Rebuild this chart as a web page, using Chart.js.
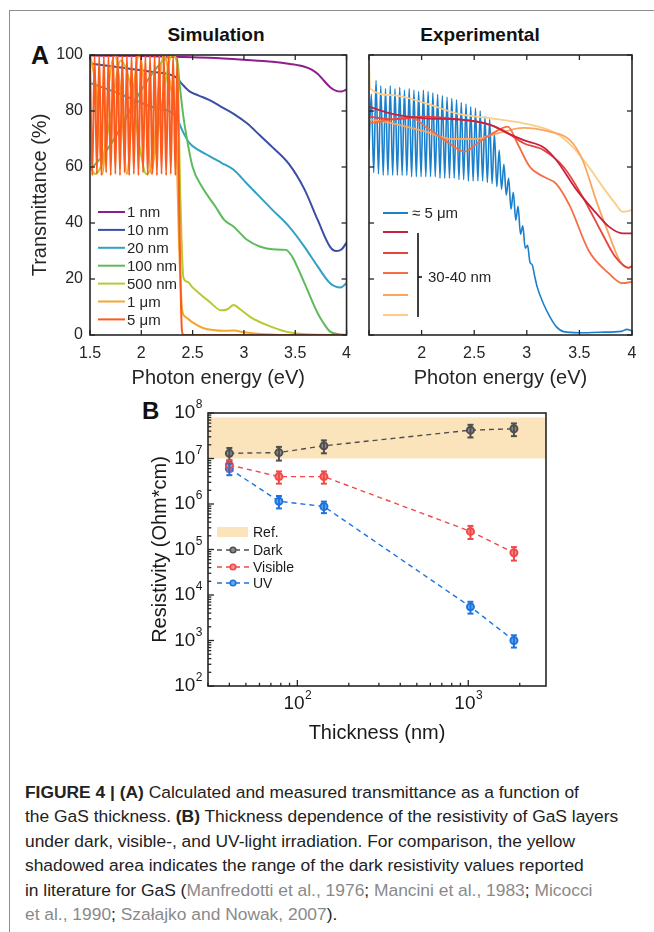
<!DOCTYPE html>
<html>
<head>
<meta charset="utf-8">
<script src="https://cdn.jsdelivr.net/npm/chart.js@4.4.1/dist/chart.umd.min.js"></script>
<style>
  body { margin: 0; background: #fff; width: 654px; height: 932px; position: relative; overflow: hidden;
         font-family: "Liberation Sans", Arial, sans-serif; color: #222; }
  canvas { position: absolute; }
  .frame { position: absolute; left: 9px; top: 10px; width: 700px; height: 960px;
           border-left: 1px solid #8e8e8e; border-top: 1px solid #8e8e8e; }
  .lbl { position: absolute; font-weight: bold; color: #111; white-space: nowrap; }
  .title { position: absolute; font-weight: bold; font-size: 19px; color: #111; transform: translateX(-50%); white-space: nowrap; }
  .cap { position: absolute; left: 25px; top: 780px; font-size: 17.4px; line-height: 24.4px; white-space: nowrap; color: #222; }
  .cap .ref { color: #8a8a8a; }
</style>
</head>
<body>
<div class="frame"></div>
<div class="lbl" style="left:31px;top:41px;font-size:25px;">A</div>
<div class="title" style="left:216px;top:24px;">Simulation</div>
<div class="title" style="left:480px;top:24px;">Experimental</div>
<div class="lbl" style="left:142px;top:397px;font-size:24px;">B</div>
<canvas id="sim" width="360" height="400" style="left:0;top:0"></canvas>
<canvas id="exp" width="294" height="400" style="left:360px;top:0"></canvas>
<canvas id="res" width="654" height="351" style="left:0;top:395px"></canvas>
<div class="cap">
<b>FIGURE 4 | (A)</b> Calculated and measured transmittance as a function of<br>
the GaS thickness. <b>(B)</b> Thickness dependence of the resistivity of GaS layers<br>
under dark, visible-, and UV-light irradiation. For comparison, the yellow<br>
shadowed area indicates the range of the dark resistivity values reported<br>
in literature for GaS (<span class="ref">Manfredotti et al., 1976</span>; <span class="ref">Mancini et al., 1983</span>; <span class="ref">Micocci<br>
et al., 1990</span>; <span class="ref">Szałajko and Nowak, 2007</span>).
</div>
<script>
// ---- (A) Simulation ----
const simLabels = ['1 nm', '10 nm', '20 nm', '100 nm', '500 nm', '1 μm', '5 μm'];
const simColors = ['#8e1d8e', '#3b4ea6', '#32a1c4', '#5dbb5d', '#b9c932', '#f6a52e', '#fb5b1c'];

const sim1nmE = [1.5, 2.0, 2.4, 2.66, 3.0, 3.28, 3.45, 3.59, 3.66, 3.72, 3.78, 3.84, 3.9, 3.95, 4.0];
const sim1nmT = [99.8, 99.6, 99.3, 99.0, 98.3, 97.6, 96.8, 95.8, 94.8, 93.2, 90.8, 88.5, 87.2, 87.0, 87.6];

const sim10nmE = [1.5, 1.8, 2.1, 2.34, 2.4, 2.47, 2.56, 2.66, 2.78, 2.9, 3.03, 3.15, 3.28, 3.44, 3.59, 3.72, 3.84, 3.9, 3.95, 4.0];
const sim10nmT = [97, 95.5, 94, 92, 89.5, 87, 85.5, 84, 81.5, 79, 75.6, 71.5, 67, 61, 52, 41, 31.5, 30, 30.5, 33];

const sim20nmE = [1.5, 1.8, 2.1, 2.34, 2.4, 2.47, 2.56, 2.66, 2.78, 2.9, 3.03, 3.15, 3.28, 3.44, 3.59, 3.72, 3.84, 3.94, 4.0];
const sim20nmT = [90, 86, 81.5, 78, 73, 68.5, 66, 64, 61.5, 59, 54, 49.5, 44.6, 38.7, 31.5, 24.4, 18.5, 17, 18.5];

const sim100nmE = [1.5, 1.6, 1.7, 1.8, 1.9, 2.0, 2.1, 2.2, 2.3, 2.35, 2.375, 2.41, 2.44, 2.5, 2.59, 2.72, 2.81, 2.9, 3.03, 3.16, 3.28, 3.41, 3.47, 3.53, 3.59, 3.66, 3.72, 3.78, 3.84, 3.92, 4.0];
const sim100nmT = [59, 63, 68, 74, 81, 87.5, 93, 97.5, 99.8, 98, 89, 78, 71, 60, 53, 46, 41, 38.7, 34, 31.5, 30.6, 30.4, 28, 23.5, 18.5, 12.5, 7.7, 4, 1.2, 0.3, 0];

const sim500nmE = [1.5, 1.55, 1.62, 1.7, 1.8, 1.9, 1.98, 2.05, 2.12, 2.2, 2.3, 2.35, 2.38, 2.41, 2.45, 2.5, 2.56, 2.66, 2.78, 2.84, 2.9, 2.97, 3.06, 3.22, 3.41, 3.6, 4.0];
const sim500nmT = [60, 57.5, 62, 78, 98, 88, 68, 57.5, 63, 82, 100, 97, 50, 20.5, 19, 17, 15, 12, 8.8, 9.2, 10.7, 9, 6.5, 3.6, 1.2, 0.3, 0];

const sim1umE = [1.5, 1.56, 1.62, 1.68, 1.74, 1.8, 1.86, 1.92, 1.98, 2.04, 2.1, 2.16, 2.22, 2.28, 2.34, 2.37, 2.4, 2.43, 2.5, 2.6, 2.7, 2.8, 2.9, 3.0, 3.2, 3.5, 4.0];
const sim1umT = [100, 88, 57.5, 88, 100, 86, 57.5, 86, 100, 85, 57.5, 85, 100, 90, 70, 30, 8.5, 6.5, 4.5, 2.5, 1.8, 1.5, 1.6, 1.0, 0.3, 0, 0];

const sim5umE = [1.500, 1.522, 1.545, 1.567, 1.590, 1.612, 1.635, 1.657, 1.680, 1.702, 1.725, 1.747, 1.770, 1.792, 1.815, 1.837,
  1.860, 1.882, 1.905, 1.927, 1.950, 1.972, 1.995, 2.017, 2.040, 2.062, 2.085, 2.107, 2.130, 2.152, 2.175, 2.197,
  2.220, 2.242, 2.265, 2.287, 2.310, 2.332, 2.350, 2.372, 2.395, 2.41, 3.0, 4.0];
const sim5umT = [100, 57, 100, 57.5, 100, 57, 100, 58, 100, 57, 100, 57.5, 100, 57, 100, 58,
  100, 57, 100, 57.5, 100, 57, 100, 58, 100, 57, 100, 57.5, 100, 57, 100, 57.5,
  100, 57, 100, 57.5, 100, 57, 99, 40, 2, 0, 0, 0];

// ---- (A) Experimental ----
const expColors = ['#1b80cc', '#c8203f', '#e8443e', '#f46e45', '#fba560', '#fdcd87'];
const expBlueLabel = '≈ 5 μm';
const expBracketLabel = '30-40 nm';

const exp5umE = [1.500, 1.522, 1.545, 1.567, 1.590, 1.612, 1.635, 1.657, 1.680, 1.702, 1.725, 1.747, 1.770, 1.792, 1.815, 1.837,
  1.860, 1.882, 1.905, 1.927, 1.950, 1.972, 1.995, 2.017, 2.040, 2.062, 2.085, 2.107, 2.130, 2.152, 2.175, 2.197,
  2.220, 2.242, 2.265, 2.287, 2.310, 2.332, 2.355, 2.377, 2.400, 2.422, 2.445, 2.467, 2.490, 2.512, 2.535, 2.557,
  2.580, 2.602, 2.625, 2.647, 2.670, 2.692, 2.715, 2.737, 2.760, 2.782, 2.805, 2.827, 2.850, 2.872, 2.895, 2.917,
  2.940, 2.962, 2.985, 3.007, 3.030, 3.052, 3.075, 3.10, 3.16, 3.22, 3.28, 3.35, 3.5, 3.7, 3.9, 3.95, 4.0];
const exp5umT = [66, 86, 58, 91, 57.5, 89, 57, 88, 57, 89, 57, 88, 57, 88.5, 57, 87.5,
  57, 88, 56.5, 87.5, 56.5, 87, 56.5, 87.5, 56.5, 87, 56.5, 86.5, 56.5, 86, 56, 85.5,
  56, 85, 56, 84.5, 56, 84, 55.5, 83, 55.5, 82.5, 55, 81.5, 55, 81, 55, 80,
  55, 78, 54.5, 77, 54, 72, 53, 66, 52, 61, 50, 56, 45, 51, 41, 46,
  36, 39, 31, 32, 26, 25, 21, 17, 11, 6.5, 3, 1.2, 0.8, 1.0, 1.3, 2.0, 1.5];

const expAE = [1.506, 1.72, 2.04, 2.35, 2.66, 2.82, 2.97, 3.16, 3.28, 3.47, 3.66, 3.78, 3.91, 4.0];
const expAT = [81.5, 79, 77.4, 77, 75, 72, 69.6, 67, 62.5, 52, 43.5, 38.7, 36.3, 36.3];

const expBE = [1.506, 1.72, 2.04, 2.35, 2.60, 2.78, 2.97, 3.16, 3.35, 3.53, 3.72, 3.84, 3.97, 4.0];
const expBT = [78, 77, 78, 77, 75.6, 73, 68.5, 66, 60, 49.4, 36, 28, 24, 24.6];

const expCE = [1.506, 1.72, 1.88, 2.04, 2.22, 2.41, 2.53, 2.72, 2.82, 2.91, 3.03, 3.16, 3.28, 3.41, 3.59, 3.78, 3.91, 4.0];
const expCT = [75.6, 77, 78, 74.4, 69.6, 65.5, 68.5, 73, 74.4, 68.5, 60, 56.5, 54, 46, 30, 22, 18.5, 19];

const expDE = [1.506, 1.72, 2.04, 2.29, 2.50, 2.72, 2.97, 3.22, 3.41, 3.53, 3.66, 3.78, 3.88, 3.97, 4.0];
const expDT = [77, 75.6, 72.6, 70, 70, 72, 74, 72.6, 69.6, 62.5, 48, 36, 26.8, 24, 24.6];

const expEE = [1.5, 1.51, 1.72, 2.04, 2.35, 2.66, 2.97, 3.28, 3.44, 3.59, 3.72, 3.84, 3.91, 4.0];
const expET = [99, 88, 85.7, 82.7, 79, 77.4, 75.6, 72, 67, 60, 53, 47, 44, 44.6];

// ---- (B) Resistivity ----
const thickness = [40, 78, 143, 1030, 1850];
const resLabels = ['Dark', 'Visible', 'UV'];
const resColors = ['#4f4f4f', '#f24848', '#1d74de'];
const resFill = ['#8d8d8d', '#f78a8a', '#6aa6ee'];
const darkRho = [1.3e7, 1.35e7, 1.9e7, 4.2e7, 4.5e7];
const darkErr = [0.4e7, 0.45e7, 0.6e7, 1.3e7, 1.4e7];
const visRho = [7.2e6, 4.0e6, 4.0e6, 2.5e5, 8.5e4];
const visErr = [2.0e6, 1.2e6, 1.2e6, 0.8e5, 2.8e4];
const uvRho = [6.0e6, 1.15e6, 8.8e5, 5.5e3, 1.0e3];
const uvErr = [1.7e6, 3.5e5, 2.5e5, 1.6e3, 3.0e2];
const refRange = [1e7, 8e7];
const refLabel = 'Ref.';
const refColor = '#fbe4bc';

const FONT = '"Liberation Sans", Arial, sans-serif';
Chart.defaults.font.family = FONT;
Chart.defaults.color = '#262626';

function pts(E, T) {
  return E.map((e, i) => ({ x: e, y: T[i] }));
}

function line(ctx, x1, y1, x2, y2) {
  ctx.beginPath();
  ctx.moveTo(x1, y1);
  ctx.lineTo(x2, y2);
  ctx.stroke();
}

function isDecade(v) {
  const l = Math.log10(v);
  return Math.abs(l - Math.round(l)) < 1e-6;
}

function isNice(v) {
  const m = v / Math.pow(10, Math.floor(Math.log10(v) + 1e-9));
  return Math.abs(m - Math.round(m)) < 1e-6;
}

// frame + inward tick marks, positioned by the chart's own scales
function boxTicks(sides, len) {
  return {
    id: 'boxTicks',
    afterDraw(chart) {
      const { ctx, chartArea: a, scales: { x, y } } = chart;
      ctx.save();
      ctx.strokeStyle = '#262626';
      ctx.lineWidth = 1.6;
      ctx.strokeRect(a.left, a.top, a.right - a.left, a.bottom - a.top);
      ctx.lineWidth = 1.3;
      x.ticks.forEach(t => {
        const log = x.type === 'logarithmic';
        if (log && !isNice(t.value)) return;
        const l = log && !isDecade(t.value) ? len * 0.55 : len;
        const px = x.getPixelForValue(t.value);
        if (sides.includes('b')) line(ctx, px, a.bottom, px, a.bottom - l);
        if (sides.includes('t')) line(ctx, px, a.top, px, a.top + l);
      });
      y.ticks.forEach(t => {
        const log = y.type === 'logarithmic';
        if (log && !isNice(t.value)) return;
        const l = log && !isDecade(t.value) ? len * 0.55 : len;
        const py = y.getPixelForValue(t.value);
        if (sides.includes('l')) line(ctx, a.left, py, a.left + l, py);
        if (sides.includes('r')) line(ctx, a.right, py, a.right - l, py);
      });
      ctx.restore();
    }
  };
}

function energyScales(showY) {
  return {
    x: {
      type: 'linear', min: 1.5, max: 4,
      ticks: { stepSize: 0.5, font: { size: 16 }, padding: 9, maxRotation: 0,
               callback: v => (!showY && v === 1.5) ? '' : v },
      grid: { display: false, drawTicks: false }, border: { display: false },
      title: { display: true, text: 'Photon energy (eV)', font: { size: 20 }, padding: { top: 0, bottom: 10 } },
      afterFit: s => { s.height = 65; }
    },
    y: {
      min: 0, max: 100,
      ticks: { stepSize: 20, font: { size: 16 }, padding: 7, display: showY },
      grid: { display: false, drawTicks: false }, border: { display: false },
      title: { display: showY, text: 'Transmittance (%)', font: { size: 20 }, padding: { top: 28, bottom: 0 } },
      afterFit: s => { s.width = showY ? 90 : 0; }
    }
  };
}

const simSeries = [[sim1nmE, sim1nmT], [sim10nmE, sim10nmT], [sim20nmE, sim20nmT], [sim100nmE, sim100nmT],
  [sim500nmE, sim500nmT], [sim1umE, sim1umT], [sim5umE, sim5umT]];

new Chart(document.getElementById('sim'), {
  type: 'line',
  data: {
    datasets: simSeries.map((s, i) => ({
      label: simLabels[i],
      data: pts(s[0], s[1]),
      borderColor: simColors[i],
      borderWidth: 2,
      pointRadius: 0,
      cubicInterpolationMode: 'monotone',
      order: 6 - i
    }))
  },
  options: {
    responsive: false, animation: false, devicePixelRatio: 1,
    layout: { padding: { top: 55, right: 3, left: 0, bottom: 0 } },
    plugins: { legend: { display: false }, tooltip: { enabled: false } },
    scales: energyScales(true)
  },
  plugins: [boxTicks('lrtb', 5), {
    id: 'simLegend',
    afterDraw(chart) {
      const { ctx, chartArea: a } = chart;
      ctx.save();
      ctx.font = '15px ' + FONT;
      ctx.textBaseline = 'middle';
      ctx.fillStyle = '#262626';
      ctx.lineWidth = 2;
      simLabels.forEach((lab, i) => {
        const y = a.top + 157 + i * 17.9;
        ctx.strokeStyle = simColors[i];
        line(ctx, a.left + 8, y, a.left + 35, y);
        ctx.fillText(lab, a.left + 37, y + 1);
      });
      ctx.restore();
    }
  }]
});

const expSeries = [[exp5umE, exp5umT], [expAE, expAT], [expBE, expBT], [expCE, expCT], [expDE, expDT], [expEE, expET]];

new Chart(document.getElementById('exp'), {
  type: 'line',
  data: {
    datasets: expSeries.map((s, i) => ({
      data: pts(s[0], s[1]),
      borderColor: expColors[i],
      borderWidth: i === 0 ? 1.6 : 1.8,
      pointRadius: 0,
      cubicInterpolationMode: 'monotone',
      order: i === 0 ? 10 : 0
    }))
  },
  options: {
    responsive: false, animation: false, devicePixelRatio: 1,
    layout: { padding: { top: 55, right: 22, left: 4, bottom: 0 } },
    plugins: { legend: { display: false }, tooltip: { enabled: false } },
    scales: energyScales(false)
  },
  plugins: [boxTicks('lrtb', 5), {
    id: 'expLegend',
    afterDraw(chart) {
      const { ctx, chartArea: a } = chart;
      const rows = [158, 177, 198, 218, 240, 260];
      ctx.save();
      ctx.font = '15px ' + FONT;
      ctx.textBaseline = 'middle';
      ctx.fillStyle = '#262626';
      ctx.lineWidth = 2;
      rows.forEach((r, i) => {
        ctx.strokeStyle = expColors[i];
        line(ctx, a.left + 14, a.top + r, a.left + 39, a.top + r);
      });
      ctx.fillText(expBlueLabel, a.left + 43, a.top + 159);
      ctx.strokeStyle = '#111';
      ctx.lineWidth = 1.6;
      line(ctx, a.left + 49, a.top + 178, a.left + 49, a.top + 262);
      line(ctx, a.left + 49, a.top + 222, a.left + 53, a.top + 222);
      ctx.fillText(expBracketLabel, a.left + 59, a.top + 223);
      ctx.restore();
    }
  }]
});

const resSeries = [[darkRho, darkErr], [visRho, visErr], [uvRho, uvErr]];

function pow10Label(ctx, x, y, exp, align) {
  ctx.font = '19px ' + FONT;
  const w10 = ctx.measureText('10').width;
  ctx.font = '12px ' + FONT;
  const we = ctx.measureText(exp).width;
  const left = align === 'right' ? x - w10 - we : x - (w10 + we) / 2;
  ctx.textAlign = 'left';
  ctx.textBaseline = 'middle';
  ctx.font = '19px ' + FONT;
  ctx.fillText('10', left, y);
  ctx.font = '12px ' + FONT;
  ctx.fillText(exp, left + w10 + 0.5, y - 8);
}

new Chart(document.getElementById('res'), {
  type: 'line',
  data: {
    datasets: resSeries.map((s, i) => ({
      label: resLabels[i],
      data: thickness.map((t, k) => ({ x: t, y: s[0][k] })),
      errBars: s[1],
      borderColor: resColors[i],
      borderWidth: 1.4,
      borderDash: [5, 4],
      pointRadius: 3.5,
      pointBorderWidth: 2,
      pointBorderColor: resColors[i],
      pointBackgroundColor: resFill[i]
    }))
  },
  options: {
    responsive: false, animation: false, devicePixelRatio: 1,
    layout: { padding: { top: 18, right: 108, left: 0, bottom: 0 } },
    plugins: { legend: { display: false }, tooltip: { enabled: false } },
    scales: {
      x: {
        type: 'logarithmic', min: 30, max: 2850,
        ticks: { display: false }, grid: { display: false, drawTicks: false }, border: { display: false },
        title: { display: true, text: 'Thickness (nm)', font: { size: 20 }, color: '#1a1a1a', padding: { top: 0, bottom: 1 } },
        afterFit: s => { s.height = 60; }
      },
      y: {
        type: 'logarithmic', min: 100, max: 1e8,
        ticks: { display: false }, grid: { display: false, drawTicks: false }, border: { display: false },
        title: { display: true, text: 'Resistivity (Ohm*cm)', font: { size: 20 }, color: '#1a1a1a', padding: { top: 148, bottom: 0 } },
        afterFit: s => { s.width = 208; }
      }
    }
  },
  plugins: [{
    id: 'refBand',
    beforeDatasetsDraw(chart) {
      const { ctx, chartArea: a, scales: { y } } = chart;
      const y1 = y.getPixelForValue(refRange[1]);
      const y0 = y.getPixelForValue(refRange[0]);
      ctx.save();
      ctx.fillStyle = refColor;
      ctx.fillRect(a.left, y1, a.right - a.left, y0 - y1);
      ctx.restore();
    }
  }, {
    id: 'errBars',
    afterDatasetsDraw(chart) {
      const { ctx, scales: { x, y } } = chart;
      ctx.save();
      ctx.lineWidth = 2;
      chart.data.datasets.forEach(ds => {
        ctx.strokeStyle = ds.borderColor;
        ds.data.forEach((p, i) => {
          const px = x.getPixelForValue(p.x);
          const lo = y.getPixelForValue(p.y - ds.errBars[i]);
          const hi = y.getPixelForValue(p.y + ds.errBars[i]);
          line(ctx, px, lo, px, hi);
          line(ctx, px - 3, lo, px + 3, lo);
          line(ctx, px - 3, hi, px + 3, hi);
        });
      });
      ctx.restore();
    }
  }, boxTicks('lb', 6), {
    id: 'resLabels',
    afterDraw(chart) {
      const { ctx, chartArea: a, scales: { x, y } } = chart;
      ctx.save();
      ctx.fillStyle = '#1a1a1a';
      ['2', '3', '4', '5', '6', '7', '8'].forEach(e => {
        pow10Label(ctx, a.left - 6, y.getPixelForValue(Math.pow(10, +e)), e, 'right');
      });
      ['2', '3'].forEach(e => {
        pow10Label(ctx, x.getPixelForValue(Math.pow(10, +e)), a.bottom + 18, e, 'center');
      });
      // legend
      ctx.fillStyle = refColor;
      ctx.fillRect(a.left + 9, a.top + 114, 31, 10);
      ctx.font = '14px ' + FONT;
      ctx.fillStyle = '#1a1a1a';
      ctx.textAlign = 'left';
      ctx.textBaseline = 'middle';
      ctx.fillText(refLabel, a.left + 45, a.top + 120);
      [137, 154, 170].forEach((r, i) => {
        const yy = a.top + r;
        ctx.strokeStyle = resColors[i];
        ctx.lineWidth = 1.4;
        ctx.setLineDash([5, 4]);
        line(ctx, a.left + 9, yy, a.left + 42, yy);
        ctx.setLineDash([]);
        ctx.beginPath();
        ctx.arc(a.left + 25, yy, 2.8, 0, Math.PI * 2);
        ctx.fillStyle = resFill[i];
        ctx.fill();
        ctx.lineWidth = 1.6;
        ctx.stroke();
        ctx.fillStyle = '#1a1a1a';
        ctx.fillText(resLabels[i], a.left + 45, yy + 1);
      });
      ctx.restore();
    }
  }]
});
</script>
</body>
</html>
